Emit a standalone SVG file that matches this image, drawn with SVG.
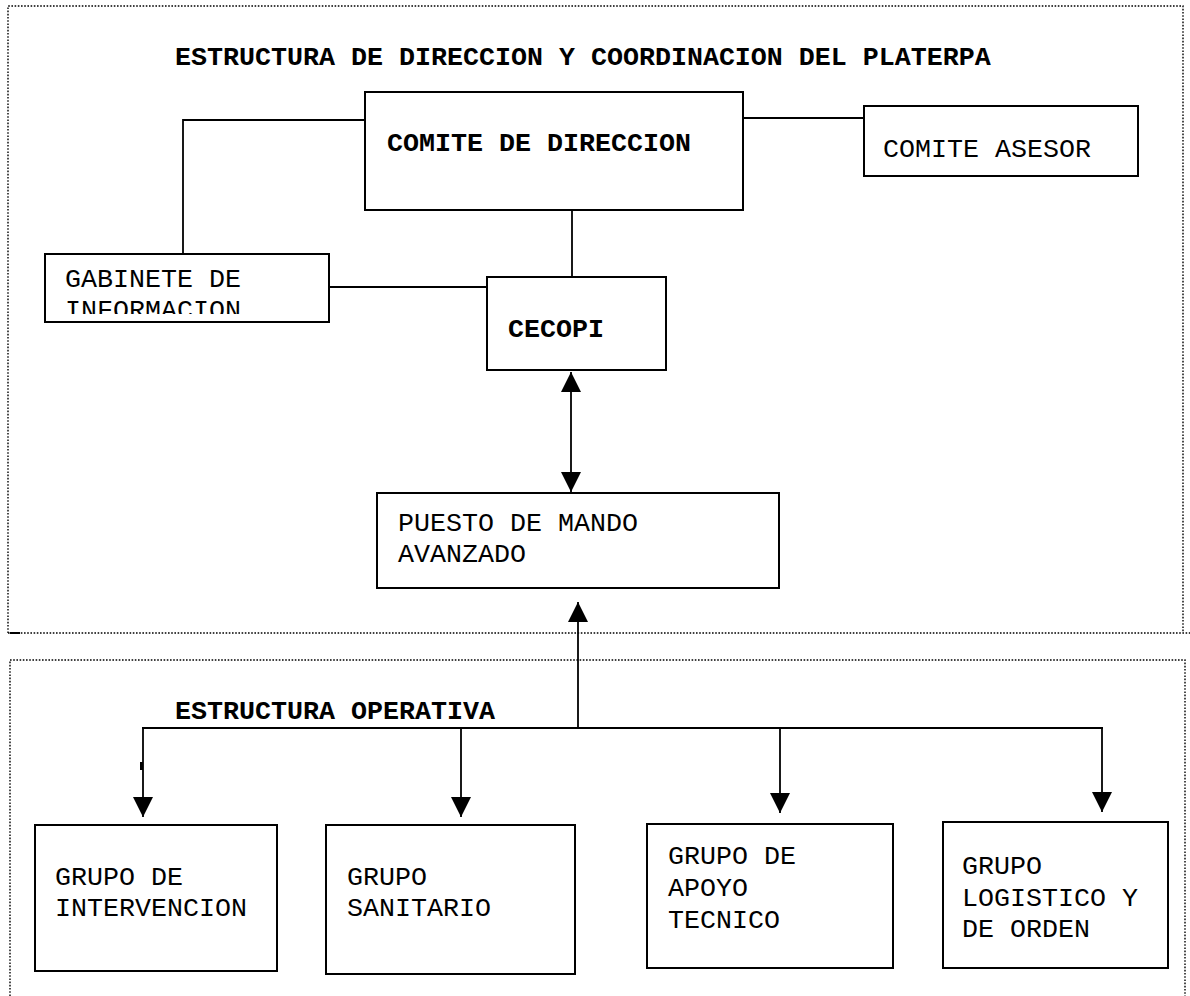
<svg xmlns="http://www.w3.org/2000/svg" width="1190" height="996" viewBox="0 0 1190 996">
<style>
.frame{fill:none;stroke:#000;stroke-width:1.4;stroke-dasharray:1.6 1.6}
.box{fill:#fff;stroke:#000;stroke-width:2}
.ln{fill:none;stroke:#000;stroke-width:1.8}
.t{font-family:"Liberation Mono","Courier New",monospace;font-size:26.67px;fill:#000}
.b{font-weight:bold}
</style>
<defs>
<marker id="arr" viewBox="0 0 20 20" refX="20" refY="10" markerWidth="20" markerHeight="20" markerUnits="userSpaceOnUse" orient="auto-start-reverse">
<path d="M0,0 L20,10 L0,20 z" fill="#000"/>
</marker>
<clipPath id="clipGab"><rect x="45" y="255" width="284" height="59"/></clipPath>
</defs>
<g id="frames">
<path class="frame" d="M8,633 L8,6 L1183,6 L1183,633 M8,633 L1190,633"/>
<path class="frame" d="M10,996 L10,660 L1185,660 L1185,996"/>
<line x1="10" y1="633" x2="20" y2="633" stroke="#000" stroke-width="2"/>
</g>
<text id="title" class="t b" x="175" y="65">ESTRUCTURA DE DIRECCION Y COORDINACION DEL PLATERPA</text>
<text id="title-op" class="t b" x="175" y="719">ESTRUCTURA OPERATIVA</text>
<g id="connectors">
<polyline class="ln" points="183,254 183,120 365,120"/>
<line class="ln" x1="743" y1="118" x2="864" y2="118"/>
<line class="ln" x1="572" y1="210" x2="572" y2="277"/>
<line class="ln" x1="329" y1="287" x2="487" y2="287"/>
<line class="ln" x1="571" y1="372" x2="571" y2="492" marker-start="url(#arr)" marker-end="url(#arr)"/>
<line class="ln" x1="578" y1="728" x2="578" y2="602" marker-end="url(#arr)"/>
<line class="ln" x1="142" y1="728" x2="1103" y2="728"/>
<line class="ln" x1="143" y1="728" x2="143" y2="817" marker-end="url(#arr)"/>
<line class="ln" x1="461" y1="728" x2="461" y2="817" marker-end="url(#arr)"/>
<line class="ln" x1="780" y1="728" x2="780" y2="813" marker-end="url(#arr)"/>
<line class="ln" x1="1102" y1="728" x2="1102" y2="812" marker-end="url(#arr)"/>
<rect x="140" y="762" width="3" height="8" fill="#000"/>
</g>
<g id="comite-direccion">
<rect class="box" x="365" y="92" width="378" height="118"/>
<text class="t b" x="387" y="151">COMITE DE DIRECCION</text>
</g>
<g id="comite-asesor">
<rect class="box" x="864" y="106" width="274" height="70"/>
<text class="t" x="883" y="157">COMITE ASESOR</text>
</g>
<g id="gabinete">
<rect class="box" x="45" y="254" width="284" height="68"/>
<g clip-path="url(#clipGab)">
<text class="t" x="65" y="287">GABINETE DE</text>
<text class="t" x="65" y="318">INFORMACION</text>
</g>
</g>
<g id="cecopi">
<rect class="box" x="487" y="277" width="179" height="93"/>
<text class="t b" x="508" y="337">CECOPI</text>
</g>
<g id="puesto">
<rect class="box" x="377" y="493" width="402" height="95"/>
<text class="t" x="398" y="531">PUESTO DE MANDO</text>
<text class="t" x="398" y="562">AVANZADO</text>
</g>
<g id="grupo-intervencion">
<rect class="box" x="35" y="825" width="242" height="146"/>
<text class="t" x="55" y="885">GRUPO DE</text>
<text class="t" x="55" y="916">INTERVENCION</text>
</g>
<g id="grupo-sanitario">
<rect class="box" x="326" y="825" width="249" height="149"/>
<text class="t" x="347" y="885">GRUPO</text>
<text class="t" x="347" y="916">SANITARIO</text>
</g>
<g id="grupo-apoyo">
<rect class="box" x="647" y="824" width="246" height="144"/>
<text class="t" x="668" y="864">GRUPO DE</text>
<text class="t" x="668" y="896">APOYO</text>
<text class="t" x="668" y="928">TECNICO</text>
</g>
<g id="grupo-logistico">
<rect class="box" x="943" y="822" width="225" height="146"/>
<text class="t" x="962" y="874">GRUPO</text>
<text class="t" x="962" y="906">LOGISTICO Y</text>
<text class="t" x="962" y="937">DE ORDEN</text>
</g>
</svg>
